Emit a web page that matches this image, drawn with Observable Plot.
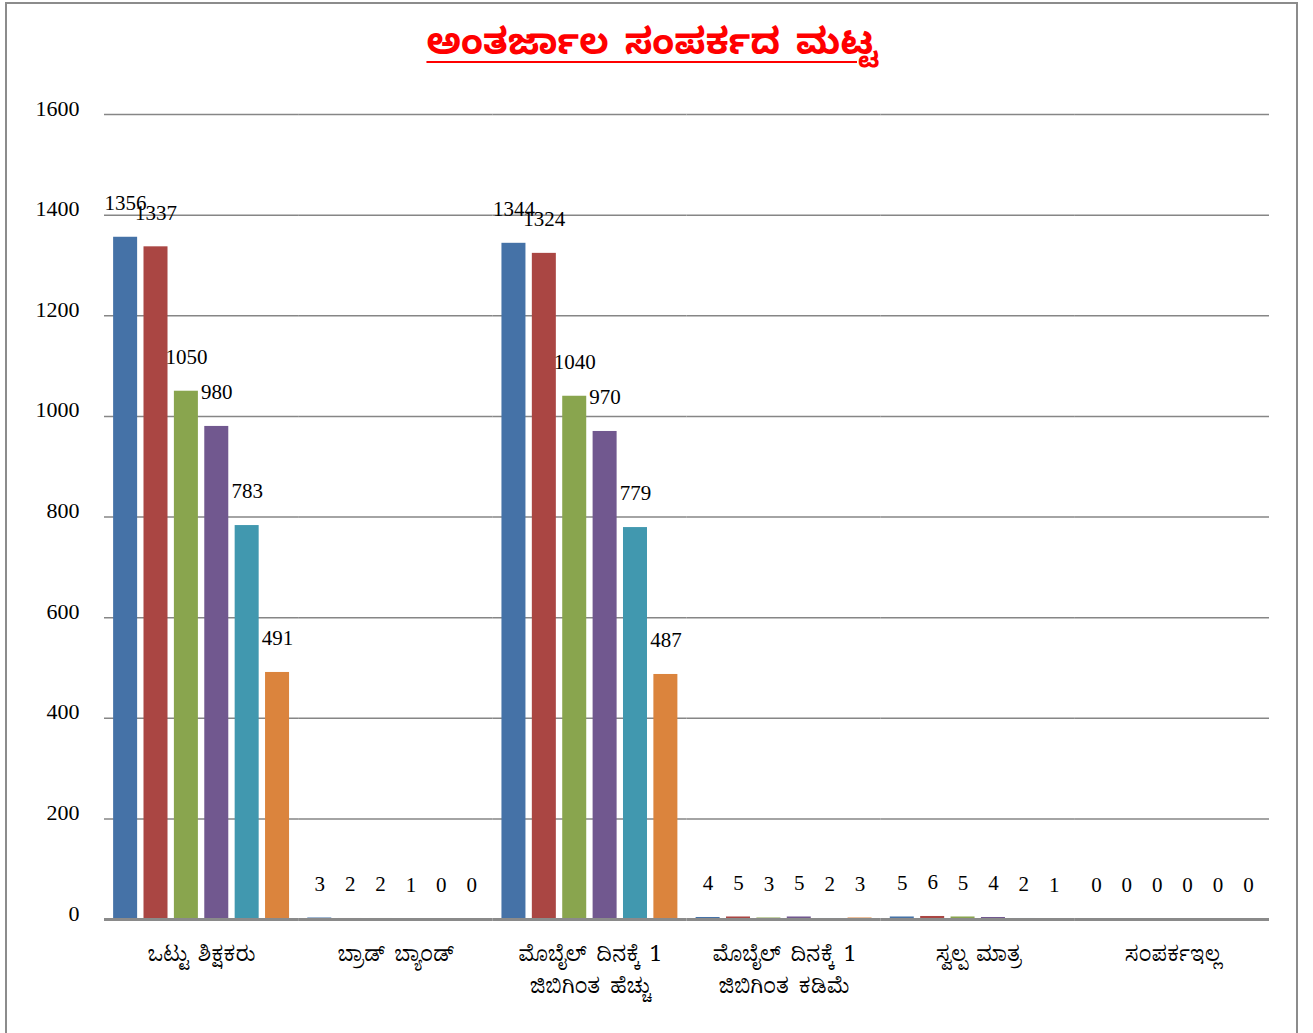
<!DOCTYPE html>
<html>
<head>
<meta charset="utf-8">
<script src="https://cdn.jsdelivr.net/npm/d3@7"></script>
<script src="https://cdn.jsdelivr.net/npm/@observablehq/plot@0.6"></script>
<style>
  html, body { margin: 0; padding: 0; background: #fff; }
  body { position: relative; width: 1313px; height: 1033px; overflow: hidden; }
  #frame { position: absolute; left: 5px; top: 2px; width: 1289px; height: 1100px;
           border: 2.5px solid #8c8c8c; border-bottom: none; box-sizing: content-box; }
  #title { position: absolute; left: 0; top: 4px; width: 1305px; height: 90px; line-height: 90px;
           text-align: center; color: #ff0000; font-weight: bold; font-size: 36px;
           word-spacing: 5px; letter-spacing: 0.3px;
           text-decoration: underline; text-decoration-thickness: 2px; text-underline-offset: 7px;
           font-family: "Noto Sans Kannada", "Noto Serif Kannada", "Lohit Kannada", Tunga, "Noto Sans", sans-serif; }
  #chart { position: absolute; left: 0; top: 95px; }
</style>
</head>
<body>
<div id="frame"></div>
<div id="title">ಅಂತರ್ಜಾಲ ಸಂಪರ್ಕದ ಮಟ್ಟ</div>
<div id="chart"></div>
<script>
const categories = [
  "ಒಟ್ಟು ಶಿಕ್ಷಕರು",
  "ಬ್ರಾಡ್ ಬ್ಯಾಂಡ್",
  "ಮೊಬೈಲ್ ದಿನಕ್ಕೆ 1 ಜಿಬಿಗಿಂತ ಹೆಚ್ಚು",
  "ಮೊಬೈಲ್ ದಿನಕ್ಕೆ 1 ಜಿಬಿಗಿಂತ ಕಡಿಮೆ",
  "ಸ್ವಲ್ಪ ಮಾತ್ರ",
  "ಸಂಪರ್ಕಇಲ್ಲ"
];
const tickLabels = [
  "ಒಟ್ಟು  ಶಿಕ್ಷಕರು",
  "ಬ್ರಾಡ್  ಬ್ಯಾಂಡ್",
  "ಮೊಬೈಲ್  ದಿನಕ್ಕೆ  1\nಜಿಬಿಗಿಂತ  ಹೆಚ್ಚು",
  "ಮೊಬೈಲ್  ದಿನಕ್ಕೆ  1\nಜಿಬಿಗಿಂತ  ಕಡಿಮೆ",
  "ಸ್ವಲ್ಪ  ಮಾತ್ರ",
  "ಸಂಪರ್ಕಇಲ್ಲ"
];
const series = ["Series1", "Series2", "Series3", "Series4", "Series5", "Series6"];
const colors = ["#4572A7", "#AA4643", "#89A54E", "#71588F", "#4198AF", "#DB843D"];
const values1 = [1356, 3, 1344, 4, 5, 0];
const values2 = [1337, 2, 1324, 5, 6, 0];
const values3 = [1050, 2, 1040, 3, 5, 0];
const values4 = [980, 1, 970, 5, 4, 0];
const values5 = [783, 0, 779, 2, 2, 0];
const values6 = [491, 0, 487, 3, 1, 0];
const yTicks = [0, 200, 400, 600, 800, 1000, 1200, 1400, 1600];

const seriesValues = [values1, values2, values3, values4, values5, values6];
const data = [];
categories.forEach((c, i) => {
  series.forEach((s, j) => {
    data.push({category: c, series: s, value: seriesValues[j][i]});
  });
});

const serif = "'Liberation Serif', 'Times New Roman', serif";
const knFont = "'Noto Serif Kannada', 'Noto Sans Kannada', 'Lohit Kannada', Tunga, 'Liberation Serif', serif";

const chart = Plot.plot({
  width: 1313,
  height: 935,
  marginLeft: 104,
  marginRight: 44,
  marginTop: 19,
  marginBottom: 111,
  style: {background: "transparent", fontFamily: serif, color: "#000"},
  fx: {
    domain: categories,
    paddingInner: 0,
    paddingOuter: 0,
    round: false,
    label: null,
    axis: null
  },
  x: {domain: series, paddingInner: 0.21, paddingOuter: 0.3, round: false, axis: null},
  y: {domain: [0, 1600], axis: null},
  color: {domain: series, range: colors},
  marks: [
    Plot.ruleY(yTicks.filter(d => d > 0), {stroke: "#868686", strokeWidth: 1.5}),
    Plot.barY(data, {fx: "category", x: "series", y: "value", fill: "series"}),
    Plot.ruleY([0], {stroke: "#8a8a8a", strokeWidth: 3}),
    Plot.text(data, {fx: "category", x: "series", y: "value", text: d => String(d.value),
      dy: -34, fontSize: 21, fontFamily: serif, fill: "#000"}),
    Plot.axisY({ticks: yTicks, tickSize: 0, tickPadding: 25, fontSize: 22,
      fontFamily: serif, dy: -6, label: null, tickFormat: d => String(d)}),
    Plot.axisFx({anchor: "bottom", tickSize: 0, tickPadding: 19, fontSize: 21,
      fontFamily: knFont, lineHeight: 1.52, label: null,
      tickFormat: d => tickLabels[categories.indexOf(d)]})
  ]
});
document.getElementById("chart").appendChild(chart);
</script>
</body>
</html>
